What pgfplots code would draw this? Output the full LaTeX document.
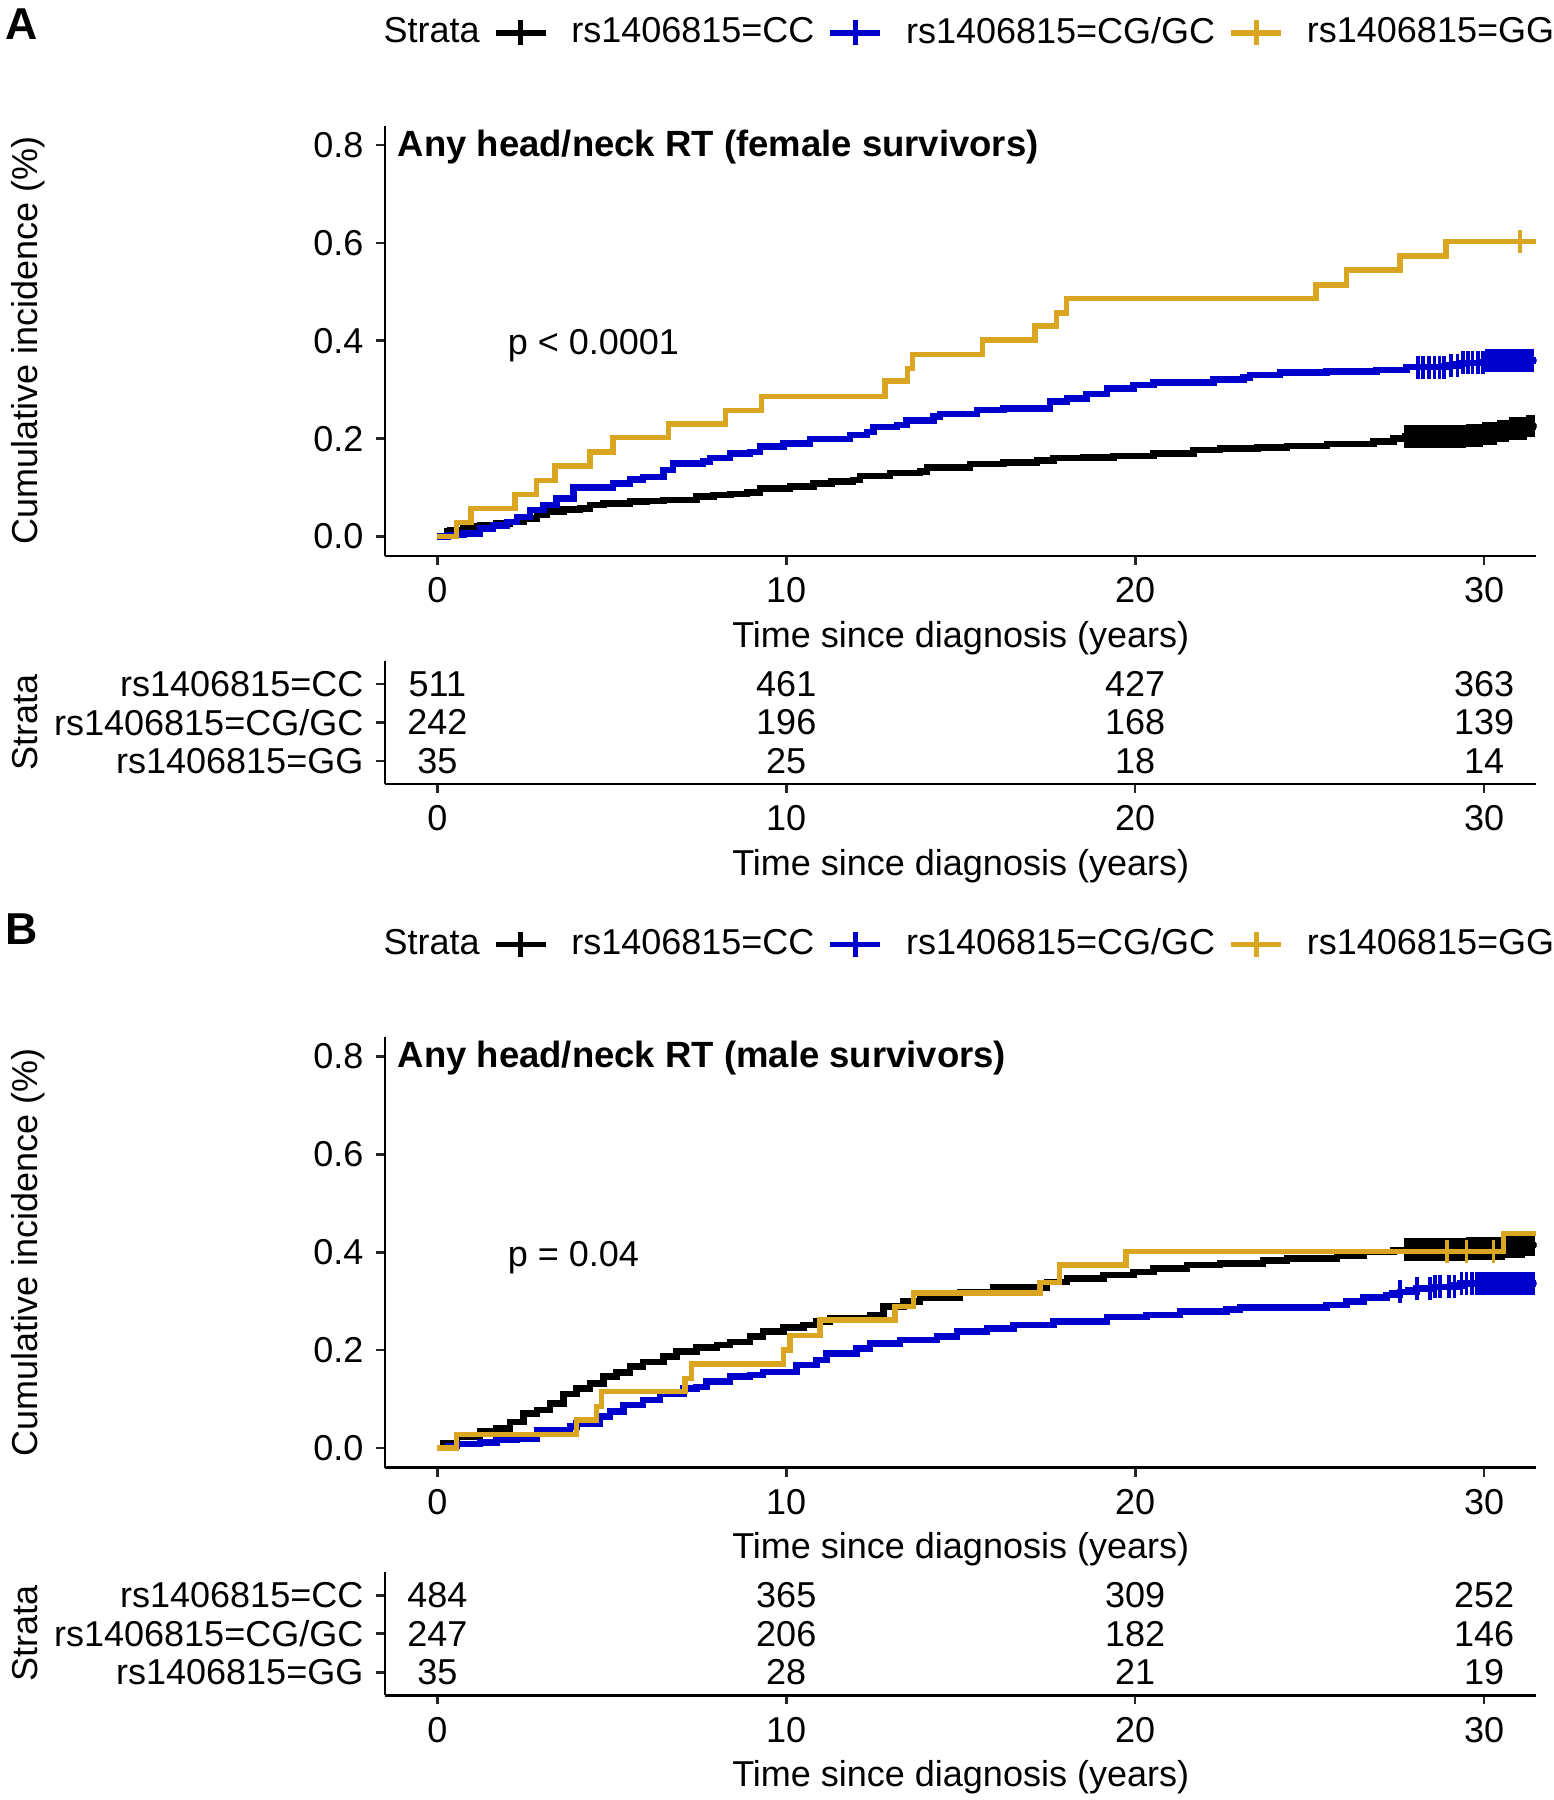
\documentclass[border=0pt]{standalone}
\usepackage{fontspec}
\setmainfont{Liberation Sans}
\usepackage{pgfplots}
\pgfplotsset{compat=1.18}
\definecolor{kmgold}{RGB}{218,165,32}
\definecolor{kmblue}{RGB}{0,0,205}
\pgfplotsset{
  kmaxis/.style={
    scale only axis, width=345.42pt, xmin=-1.5, xmax=31.5,
    axis lines*=left, axis line style={line width=0.8pt, -},
    tick align=outside, major tick length=2.7pt,
    tick style={line width=0.8pt, black!85},
    xtick={0,10,20,30},
    /pgf/number format/assume math mode=true,
    xlabel={Time since diagnosis (years)},
    xlabel style={at={(axis description cs:0.5,0)}, anchor=base, yshift=-27.3pt},
    ylabel style={at={(axis description cs:-0.30137,0.5)}, anchor=base},
    clip marker paths=true,
  },
  kmmain/.style={
    kmaxis, height=129.18pt, ymin=-0.04, ymax=0.84,
    ytick={0,0.2,0.4,0.6,0.8},
    yticklabel style={/pgf/number format/.cd, fixed, fixed zerofill, precision=1},
    ylabel={Cumulative incidence (\%)},
    legend columns=-1,
    legend style={draw=none, fill=none, inner sep=0pt,
      at={(axis description cs:-0.0218,1.2152)}, anchor=west,
      nodes={inner sep=0pt},
      /tikz/every odd column/.append style={column sep=6.9pt},
      /tikz/every even column/.append style={column sep=4.0pt}},
  },
  kmtable/.style={
    kmaxis, height=36.96pt, ymin=0.4, ymax=3.6,
    ytick={1,2,3},
    yticklabels={rs1406815=GG,rs1406815=CG/GC,rs1406815=CC},
    ylabel={Strata},
  },
  kmline/.style={const plot, line width=1.95pt, mark=none, forget plot},
  cens/.style={only marks, mark=+, mark size=3.4pt, mark options={line width=1.1pt}, forget plot},
  kmkey/.style={legend image code/.code={
      \draw[#1, line width=1.6pt] (0pt,0pt) -- (15pt,0pt);
      \draw[#1, line width=1.6pt] (7.5pt,-3.75pt) -- (7.5pt,3.75pt);}},
  risk/.style={only marks, mark=none, forget plot, nodes near coords,
    point meta=explicit symbolic, nodes near coords align=center,
    every node near coord/.append style={anchor=center}},
}
\begin{document}
\fontsize{10.8}{13}\selectfont
\begin{tikzpicture}
\path[use as bounding box] (0pt,0pt) rectangle (465.9pt,-540pt);
\node[anchor=base west, inner sep=0pt, font=\fontsize{13.4}{16}\selectfont\bfseries] at (1.5pt,-12pt) {A};
\node[anchor=base west, inner sep=0pt, font=\fontsize{13.4}{16}\selectfont\bfseries] at (1.5pt,-283.35pt) {B};

% ---------------- Panel A main ----------------
\begin{axis}[kmmain, at={(115.5pt,-166.83pt)}, anchor=south west]
\addlegendimage{empty legend}\addlegendentry{Strata}
\addlegendimage{kmkey=black}\addlegendentry{rs1406815=CC}
\addlegendimage{kmkey=kmblue}\addlegendentry{rs1406815=CG/GC}
\addlegendimage{kmkey=kmgold}\addlegendentry{rs1406815=GG}
\addplot[kmline, black] coordinates {
(0,0) (0.27,0.0099) (0.36,0.0133) (0.75,0.020) (1.22,0.0235) (1.70,0.027) (2.08,0.030) (2.47,0.037) (2.85,0.044) (3.14,0.0507) (3.61,0.0556) (4.09,0.0576) (4.38,0.0644) (4.76,0.0678) (5.52,0.0712) (6.0,0.073) (6.48,0.0746) (7.43,0.0814) (7.91,0.0848) (8.4,0.087) (8.87,0.0895) (9.25,0.0985) (10.11,0.1018) (10.78,0.1087) (11.3,0.112) (11.92,0.1155) (12.12,0.1236) (12.97,0.130) (13.83,0.1325) (14.03,0.1414) (15.27,0.148) (16.22,0.1509) (17.18,0.155) (17.66,0.160) (18.5,0.162) (19.38,0.1645) (20.52,0.170) (21.67,0.1768) (22.43,0.180) (23.5,0.182) (24.35,0.185) (25.5,0.189) (26.83,0.1938) (27.40,0.2006) (27.74,0.204) (29.5,0.207) (29.98,0.211) (30.4,0.216) (30.75,0.221) (31.2,0.226) (31.5,0.226)};
\addplot[cens, black] coordinates {
(27.76,0.204) (27.84,0.204) (27.92,0.204) (28.0,0.204) (28.08,0.204) (28.16,0.204) (28.24,0.204) (28.32,0.204) (28.4,0.204) (28.48,0.204) (28.56,0.204) (28.64,0.204) (28.72,0.204) (28.8,0.204) (28.88,0.204) (28.96,0.204) (29.04,0.204) (29.12,0.204) (29.2,0.204) (29.28,0.204) (29.36,0.204) (29.44,0.204) (29.52,0.207) (29.6,0.207) (29.68,0.207) (29.76,0.207) (29.84,0.207) (29.92,0.207) (30.0,0.211) (30.08,0.211) (30.16,0.211) (30.24,0.211) (30.32,0.211) (30.42,0.216) (30.5,0.216) (30.58,0.216) (30.66,0.216) (30.77,0.221) (30.85,0.221) (30.93,0.221) (31.01,0.221) (31.09,0.221) (31.17,0.221) (31.24,0.226) (31.32,0.226) (31.4,0.226)};
\addplot[kmline, kmblue] coordinates {
(0,0) (0.3,0.003) (0.75,0.0065) (1.22,0.0167) (1.6,0.023) (1.99,0.030) (2.28,0.040) (2.66,0.054) (3.04,0.064) (3.42,0.078) (3.90,0.1005) (5.04,0.1087) (5.52,0.117) (5.90,0.122) (6.48,0.136) (6.76,0.1495) (7.62,0.153) (7.82,0.160) (8.39,0.170) (8.96,0.173) (9.25,0.1835) (9.92,0.190) (10.68,0.199) (11.83,0.2074) (12.31,0.214) (12.50,0.224) (13.17,0.228) (13.45,0.2367) (14.22,0.245) (14.41,0.250) (15.46,0.2585) (16.22,0.262) (17.56,0.2755) (18.04,0.2824) (18.61,0.291) (19.19,0.303) (19.95,0.3096) (20.52,0.3144) (22.24,0.321) (23.10,0.325) (23.29,0.330) (24.15,0.3348) (25.49,0.3368) (26.92,0.340) (27.78,0.346) (28.9,0.350) (29.3,0.355) (30.0,0.360) (31.5,0.360)};
\addplot[cens, kmblue] coordinates {
(28.10,0.346) (28.24,0.346) (28.43,0.346) (28.58,0.346) (28.72,0.346) (28.86,0.346) (29.05,0.350) (29.24,0.350) (29.39,0.355) (29.53,0.355) (29.67,0.355) (29.82,0.355) (29.96,0.355) (30.08,0.360) (30.17,0.360) (30.25,0.360) (30.34,0.360) (30.44,0.360) (30.54,0.360) (30.63,0.360) (30.7,0.360) (30.77,0.360) (30.85,0.360) (30.92,0.360) (31.0,0.360) (31.06,0.360) (31.13,0.360) (31.20,0.360) (31.3,0.360) (31.39,0.360)};
\addplot[kmline, kmgold, line width=1.6pt] coordinates {
(0,0) (0.54,0.028) (0.96,0.0576) (2.23,0.086) (2.85,0.115) (3.37,0.144) (4.38,0.173) (5.03,0.202) (6.62,0.230) (8.25,0.257) (9.30,0.286) (12.83,0.318) (13.47,0.344) (13.62,0.372) (15.63,0.4016) (17.13,0.430) (17.75,0.457) (18.04,0.487) (25.18,0.514) (26.06,0.545) (27.59,0.573) (28.91,0.6025) (31.5,0.6025)};
\addplot[cens, kmgold] coordinates {(31.03,0.6025)};
\node[anchor=base west, inner sep=0pt, font=\fontsize{10.95}{13}\selectfont\bfseries] at (axis description cs:0.0104,0.929) {Any head/neck RT (female survivors)};
\node[anchor=base west, inner sep=0pt] at (axis cs:2.0,0.371) {p < 0.0001};
\end{axis}

% ---------------- Panel A table ----------------
\begin{axis}[kmtable, at={(115.5pt,-235.2pt)}, anchor=south west]
\addplot[risk] table[meta=n] {
x y n
0 3 511
10 3 461
20 3 427
30 3 363
0 2 242
10 2 196
20 2 168
30 2 139
0 1 35
10 1 25
20 1 18
30 1 14
};
\end{axis}

% ---------------- Panel B main ----------------
\begin{axis}[kmmain, at={(115.5pt,-440.25pt)}, anchor=south west]
\addlegendimage{empty legend}\addlegendentry{Strata}
\addlegendimage{kmkey=black}\addlegendentry{rs1406815=CC}
\addlegendimage{kmkey=kmblue}\addlegendentry{rs1406815=CG/GC}
\addlegendimage{kmkey=kmgold}\addlegendentry{rs1406815=GG}
\addplot[kmline, black] coordinates {
(0,0) (0.17,0.0094) (0.56,0.0229) (1.22,0.0331) (1.70,0.040) (2.08,0.0535) (2.47,0.0707) (2.85,0.0775) (3.23,0.091) (3.61,0.110) (3.99,0.1218) (4.38,0.132) (4.76,0.1455) (5.14,0.1537) (5.52,0.166) (5.90,0.176) (6.48,0.1864) (6.86,0.1966) (7.43,0.2056) (8.01,0.2103) (8.39,0.217) (8.96,0.2273) (9.34,0.2375) (9.92,0.2464) (10.49,0.251) (10.87,0.258) (11.25,0.2648) (12.40,0.2716) (12.78,0.2886) (13.36,0.2988) (13.83,0.3078) (14.98,0.3192) (15.94,0.328) (17.47,0.3396) (18.04,0.3466) (19.09,0.3534) (19.95,0.360) (20.52,0.367) (21.48,0.3738) (22.43,0.3773) (23.67,0.3826) (24.35,0.3875) (25.78,0.392) (26.55,0.400) (27.40,0.405) (29.5,0.408) (30.6,0.411) (31.2,0.415) (31.5,0.415)};
\addplot[cens, black] coordinates {
(27.76,0.405) (27.84,0.405) (27.92,0.405) (28.0,0.405) (28.08,0.405) (28.16,0.405) (28.24,0.405) (28.32,0.405) (28.4,0.405) (28.48,0.405) (28.56,0.405) (28.64,0.405) (28.72,0.405) (28.8,0.405) (28.88,0.405) (28.96,0.405) (29.04,0.405) (29.12,0.405) (29.2,0.405) (29.28,0.405) (29.36,0.405) (29.44,0.405) (29.52,0.408) (29.6,0.408) (29.68,0.408) (29.76,0.408) (29.84,0.408) (29.92,0.408) (30.0,0.408) (30.08,0.408) (30.16,0.408) (30.24,0.408) (30.32,0.408) (30.4,0.408) (30.48,0.408) (30.56,0.408) (30.64,0.411) (30.72,0.411) (30.8,0.411) (30.88,0.411) (30.96,0.411) (31.04,0.411) (31.12,0.411) (31.22,0.415) (31.3,0.415) (31.4,0.415)};
\addplot[kmline, kmblue] coordinates {
(0,0) (0.3,0.004) (0.56,0.008) (1.22,0.0107) (1.70,0.016) (2.28,0.0196) (2.85,0.0366) (3.80,0.0434) (3.99,0.0502) (4.66,0.064) (4.95,0.074) (5.33,0.0877) (5.90,0.098) (6.38,0.1115) (7.05,0.1218) (7.43,0.125) (7.72,0.1353) (8.39,0.1455) (8.96,0.149) (9.34,0.1557) (10.30,0.1694) (10.87,0.1796) (11.16,0.193) (12.02,0.2035) (12.40,0.2137) (13.26,0.2205) (14.32,0.2273) (14.89,0.2375) (15.75,0.2443) (16.51,0.251) (17.66,0.258) (19.19,0.268) (20.33,0.2716) (21.29,0.2784) (22.62,0.2832) (23.0,0.2873) (25.49,0.292) (26.06,0.2988) (26.54,0.3078) (27.21,0.3125) (27.59,0.3192) (28.07,0.326) (28.55,0.3294) (29.31,0.3364) (31.5,0.3364)};
\addplot[cens, kmblue] coordinates {
(27.59,0.3192) (28.07,0.326) (28.45,0.326) (28.6,0.3294) (28.74,0.3294) (29.0,0.3294) (29.15,0.3294) (29.35,0.3364) (29.5,0.3364) (29.65,0.3364) (29.8,0.3364) (29.9,0.3364) (30.0,0.3364) (30.1,0.3364) (30.2,0.3364) (30.3,0.3364) (30.4,0.3364) (30.5,0.3364) (30.6,0.3364) (30.7,0.3364) (30.8,0.3364) (30.9,0.3364) (31.0,0.3364) (31.1,0.3364) (31.2,0.3364) (31.3,0.3364) (31.4,0.3364)};
\addplot[kmline, kmgold, line width=1.6pt] coordinates {
(0,0) (0.54,0.0278) (3.99,0.057) (4.57,0.0843) (4.71,0.1149) (7.10,0.1422) (7.29,0.1715) (9.92,0.2) (10.11,0.2297) (10.97,0.2614) (13.12,0.2886) (13.64,0.317) (17.27,0.3388) (17.83,0.3738) (19.74,0.401) (30.55,0.4386) (31.5,0.4386)};
\addplot[cens, kmgold] coordinates {(28.93,0.401) (29.50,0.401) (30.27,0.401)};
\node[anchor=base west, inner sep=0pt, font=\fontsize{10.95}{13}\selectfont\bfseries] at (axis description cs:0.0104,0.929) {Any head/neck RT (male survivors)};
\node[anchor=base west, inner sep=0pt] at (axis cs:2.0,0.370) {p = 0.04};
\end{axis}

% ---------------- Panel B table ----------------
\begin{axis}[kmtable, at={(115.5pt,-508.62pt)}, anchor=south west]
\addplot[risk] table[meta=n] {
x y n
0 3 484
10 3 365
20 3 309
30 3 252
0 2 247
10 2 206
20 2 182
30 2 146
0 1 35
10 1 28
20 1 21
30 1 19
};
\end{axis}
\end{tikzpicture}
\end{document}
